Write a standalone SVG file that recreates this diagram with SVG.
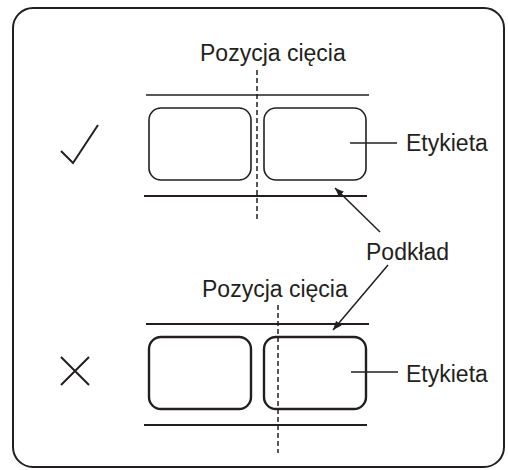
<svg xmlns="http://www.w3.org/2000/svg" width="508" height="470" viewBox="0 0 508 470">
<defs>
<style>
.t{font-family:"Liberation Sans",Arial,sans-serif;font-size:23px;fill:#231f20}
.s{fill:none;stroke:#231f20}
.lbl{fill:#fff;stroke:#231f20;stroke-width:1.6}
.lbl2{fill:#fff;stroke:#231f20;stroke-width:2.4}
.d{fill:none;stroke:#231f20;stroke-width:1.5;stroke-dasharray:5 3}
</style>
<marker id="ah" viewBox="0 0 10 10" refX="10" refY="5" markerWidth="9" markerHeight="9" markerUnits="userSpaceOnUse" orient="auto">
<path d="M0,1 L10,5 L0,9 Z" fill="#231f20"/>
</marker>
</defs>
<rect width="508" height="470" fill="#fff"/>
<rect id="frame" class="s" x="13" y="8" width="491" height="459" rx="20" stroke-width="2"/>
<g id="ok">
<path class="s" d="M61,151 L73,163 L98,125" stroke-width="2"/>
<line class="s" x1="146" y1="95" x2="369" y2="95" stroke-width="1.5"/>
<line class="s" x1="144" y1="196" x2="367" y2="196" stroke-width="2"/>
<rect id="label-ok-1" class="lbl" x="149" y="108" width="102" height="72" rx="12"/>
<rect id="label-ok-2" class="lbl" x="264" y="108" width="102" height="72" rx="12"/>
<line class="d" x1="257" y1="70" x2="257" y2="222"/>
<text class="t" x="200" y="61">Pozycja cięcia</text>
<text class="t" x="406" y="151">Etykieta</text>
</g>
<g id="ng">
<path class="s" d="M61,357 L89,385 M89,357 L61,385" stroke-width="2"/>
<line class="s" x1="146" y1="324" x2="369" y2="324" stroke-width="2"/>
<line class="s" x1="144" y1="425" x2="367" y2="425" stroke-width="2"/>
<rect id="label-ng-1" class="lbl2" x="149" y="337" width="102" height="72" rx="12"/>
<rect id="label-ng-2" class="lbl2" x="264" y="337" width="102" height="72" rx="12"/>
<line class="d" x1="278" y1="305" x2="278" y2="453"/>
<text class="t" x="202" y="297">Pozycja cięcia</text>
<text class="t" x="406" y="382">Etykieta</text>
</g>
<g id="podklad">
<text class="t" x="366" y="260">Podkład</text>
</g>
<g id="connectors">
<line class="s" x1="350" y1="143" x2="397" y2="143" stroke-width="1.5"/>
<line class="s" x1="351" y1="372" x2="398" y2="372" stroke-width="1.5"/>
<line class="s" x1="380" y1="232" x2="335" y2="188" stroke-width="1.5" marker-end="url(#ah)"/>
<line class="s" x1="388" y1="265" x2="333" y2="330" stroke-width="1.5" marker-end="url(#ah)"/>
</g>
</svg>
